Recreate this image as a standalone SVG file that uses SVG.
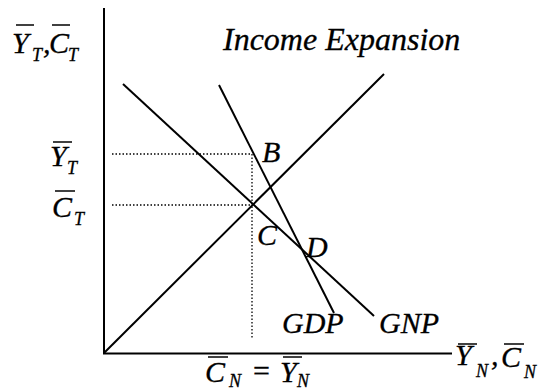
<svg xmlns="http://www.w3.org/2000/svg" width="541" height="391" viewBox="0 0 541 391">
<style>
.ax{stroke:#000;stroke-width:2;fill:none}
.ln{stroke:#000;stroke-width:2;fill:none}
.dt{stroke:#000;stroke-width:1.3;stroke-dasharray:1.5 2;fill:none}
.bar{stroke:#000;stroke-width:1.5}
text{font-family:"Liberation Serif","Times New Roman",serif;font-style:italic;fill:#000;stroke:#000;stroke-width:0.3}
.m{font-size:30px}
.s{font-size:18px}
.t{font-size:32px}
</style>
<rect width="541" height="391" fill="#fff"/>
<g id="axes">
<line class="ax" x1="104" y1="8" x2="104" y2="353.5"/>
<line class="ax" x1="103" y1="353.5" x2="452" y2="353.5"/>
</g>
<g id="connectors">
<line class="ln" x1="104" y1="353" x2="384" y2="74"/>
<line class="ln" x1="123" y1="84" x2="374" y2="316"/>
<line class="ln" x1="219" y1="85" x2="334" y2="313"/>
<line class="dt" x1="112" y1="154" x2="252" y2="154"/>
<line class="dt" x1="112" y1="205" x2="252" y2="205"/>
<line class="dt" x1="252" y1="154" x2="252" y2="338"/>
</g>
<g id="title"><text class="t" x="223" y="50">Income Expansion</text></g>
<g id="label-yaxis">
<text class="m" x="12" y="53">Y</text><text class="s" x="32" y="61">T</text>
<text class="m" x="43" y="53">,</text>
<text class="m" x="49" y="53">C</text><text class="s" x="68" y="61">T</text>
<line class="bar" x1="16" y1="25" x2="34" y2="25"/>
<line class="bar" x1="52" y1="25" x2="70" y2="25"/>
</g>
<g id="label-YT">
<text class="m" x="50" y="166">Y</text><text class="s" x="67" y="174">T</text>
<line class="bar" x1="53" y1="142" x2="72" y2="142"/>
</g>
<g id="label-CT">
<text class="m" x="52" y="217">C</text><text class="s" x="74" y="225">T</text>
<line class="bar" x1="55" y1="191" x2="75" y2="191"/>
</g>
<g id="label-xaxis">
<text class="m" x="455" y="365">Y</text><text class="s" x="476" y="377">N</text>
<text class="m" x="491" y="365">,</text>
<text class="m" x="501" y="367">C</text><text class="s" x="524" y="378">N</text>
<line class="bar" x1="458" y1="344" x2="477" y2="344"/>
<line class="bar" x1="504" y1="344" x2="524" y2="344"/>
</g>
<g id="label-CN-YN">
<text class="m" x="205" y="382">C</text><text class="s" x="229" y="387">N</text>
<text class="m" x="253" y="381" style="font-style:normal">=</text>
<text class="m" x="280" y="382">Y</text><text class="s" x="297" y="387">N</text>
<line class="bar" x1="208" y1="357" x2="228" y2="357"/>
<line class="bar" x1="283" y1="357" x2="302" y2="357"/>
</g>
<g id="B"><text class="m" x="262" y="162">B</text></g>
<g id="C"><text class="m" x="257" y="245">C</text></g>
<g id="D"><text class="m" x="306" y="257">D</text></g>
<g id="GDP"><text class="m" x="282" y="333">GDP</text></g>
<g id="GNP"><text class="m" x="379" y="333">GNP</text></g>
</svg>
